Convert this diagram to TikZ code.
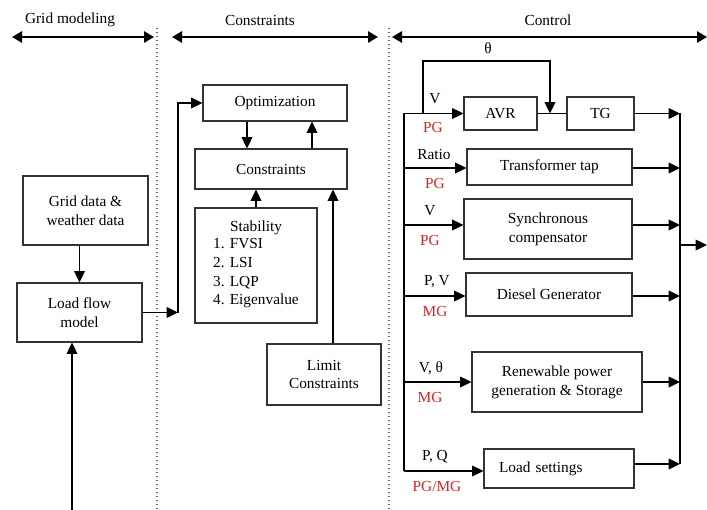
\documentclass[tikz,border=0pt]{standalone}
\usepackage{fontspec}
\setmainfont{Liberation Serif}
\usetikzlibrary{arrows.meta}
\definecolor{sigred}{RGB}{215,35,35}
\tikzset{
	blk/.style 2 args={draw=black!80, line width=.8pt, align=center, inner sep=0,
		minimum width=#1*.75pt, minimum height=#2*.75pt},
	arr/.style={-{Triangle[length=8.5pt,width=8pt]}, line width=1pt},
	span/.style={{Triangle[length=7.5pt,width=8.5pt]}-{Triangle[length=7.5pt,width=8.5pt]}, line width=1.3pt},
	sep/.style={dotted, line width=1pt, black!60},
	sig/.style={text=sigred}
}
\begin{document}
\begin{tikzpicture}[x=.75pt, y=-.75pt, font=\fontsize{11.5}{14}\selectfont]
		\useasboundingbox (0,0) rectangle (707,510);

		\node (hgrid) at (70,20) {Grid modeling};
		\node (hcons) at (260,20) {Constraints};
		\node (hctrl) at (548,20) {Control};
		\coordinate (g1) at (12,37); \coordinate (g2) at (154,37);
		\coordinate (c1) at (172,37); \coordinate (c2) at (378,37);
		\coordinate (k1) at (392,37); \coordinate (k2) at (707,37);
		\draw[span] (g1) -- (g2);
		\draw[span] (c1) -- (c2);
		\draw[span] (k1) -- (k2);
		\draw[sep] (157,28) -- (157,510);
		\draw[sep] (389,28) -- (389,510);

		\node[blk={125}{69}] (griddata) at (85.5,210.5) {Grid data \&\\weather data};
		\node[blk={125}{59}] (loadflow) at (79.5,312.5) {Load flow\\model};
		\coordinate (lfin) at (72,510);
		\coordinate (fb) at (178,312.5);
		\draw[arr] (loadflow |- griddata.south) -- (loadflow);
		\draw[arr] (lfin) -- (lfin |- loadflow.south);
		\draw[arr] (loadflow) -- (fb);

		\node[blk={144}{36}] (optim) at (275,103) {Optimization};
		\node[blk={152}{40}] (cons) at (271,169) {Constraints};
		\node[blk={122}{115}] (stab) at (256,265.5) {Stability\\
			\begin{tabular}{@{}l@{}}1. FVSI\\2. LSI\\3. LQP\\4. Eigenvalue\end{tabular}};
		\node[blk={114}{61}] (limit) at (324,374.5) {Limit\\Constraints};
		\draw[arr] (fb) |- (optim.west);
		\draw[arr] (247,0 |- optim.south) -- (247,0 |- cons.north);
		\draw[arr] (312,0 |- cons.north) -- (312,0 |- optim.south);
		\draw[arr] (stab) -- (cons.south -| stab);
		\draw[arr] (limit.north -| 333,0) -- (cons.south -| 333,0);

		\node[blk={73}{33}] (avr) at (500.5,113.5) {AVR};
		\node[blk={67}{33}] (tg) at (600.5,113.5) {TG};
		\node[blk={165}{36}] (tap) at (549.5,167) {Transformer tap};
		\node[blk={168}{60}] (sync) at (548,229) {Synchronous\\compensator};
		\node[blk={166}{43}] (diesel) at (549,294.5) {Diesel Generator};
		\node[blk={170}{60}] (renew) at (557,382) {Renewable power\\generation \& Storage};
		\node[blk={150}{39}, text width=90pt, inner xsep=11.25pt, align=left] (load) at (559,468.5) {Load settings};

		\coordinate (in-avr) at (404,113.5);
		\coordinate (out-tg) at (680,113.5);
		\coordinate (thfrom) at (423,113.5);
		\coordinate (thtop) at (550,61);
		\coordinate (join) at (550,113.5);
		\node (th) at (488,48) {θ};
		\node (up-avr) at (435,99) {V};
		\node[sig] (dn-avr) at (433,127) {PG};
		\draw[arr] (in-avr) -- (avr);
		\draw[line width=1pt] (avr) -- (tg);
		\draw[arr] (thfrom) |- (thtop) -- (join);
		\draw[arr] (tg) -- (out-tg);

		\foreach \b/\yi/\yo/\ta/\tb/\xa/\xb in {
			tap/168/168/Ratio/PG/434/435,
			sync/225/225/V/PG/430/430,
			diesel/296/296/{P, V}/MG/437/435,
			renew/382/382/{V, θ}/MG/431/430,
			load/471/464/{P, Q}/{PG/MG}/435/437} {
			\coordinate (in-\b) at (404,\yi);
			\coordinate (out-\b) at (680,\yo);
			\node (up-\b) at (\xa,\yi-14) {\ta};
			\node[sig] (dn-\b) at (\xb,\yi+15) {\tb};
			\draw[arr] (in-\b) -- (in-\b -| \b.west);
			\draw[arr] (\b.east |- out-\b) -- (out-\b);
		}
		\draw[line width=1pt] (in-avr) -- (in-load);
		\draw[line width=1pt] (out-tg) -- (out-load);
		\coordinate (out-bus) at (680,245);
		\coordinate (exit) at (707,245);
		\draw[arr] (out-bus) -- (exit);
	\end{tikzpicture}
\end{document}
